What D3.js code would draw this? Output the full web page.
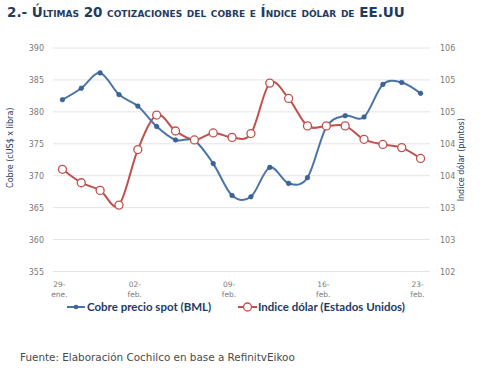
<!DOCTYPE html>
<html><head><meta charset="utf-8">
<script src="https://cdn.jsdelivr.net/npm/d3@7"></script>
<style>body{margin:0;background:#fff}svg{display:block}</style>
</head><body>
<svg id="c" width="491" height="382"></svg>
<script>
const cobre = [381.9,383.7,386.1,382.7,380.9,377.7,375.6,375.5,371.9,366.9,366.7,371.3,368.8,369.7,377.6,379.4,379.2,384.3,384.6,382.9];
const dolar = [103.6,103.39,103.27,103.04,103.91,104.45,104.2,104.06,104.17,104.1,104.16,104.95,104.71,104.28,104.28,104.28,104.07,103.99,103.94,103.77];
const tickIdx = [0,4,9,14,19];
const tickLabels = [["29-","ene."],["02-","feb."],["09-","feb."],["16-","feb."],["23-","feb."]];
const leftTicks = [355,360,365,370,375,380,385,390];
const rightTicks = [102,102.5,103,103.5,104,104.5,105,105.5];
const rightTickLabels = ["102","103","103","104","104","105","105","106"];
const seriesNames = ["Cobre precio spot (BML)","Indice dólar (Estados Unidos)"];

const svg = d3.select("#c");
const L=53, R=430, T=48, B=271.5;
const blue="#4a74a8", red="#c0504d", font="'DejaVu Sans', Verdana, sans-serif";

const x = d3.scalePoint().domain(d3.range(cobre.length)).range([L,R]).padding(0.5);
const yL = d3.scaleLinear().domain([355,390]).range([B,T]);
const yR = d3.scaleLinear().domain([102,105.5]).range([B,T]);

// title
const t = svg.append("text").attr("x",7).attr("y",17).attr("font-family",font)
  .attr("font-weight","bold").attr("fill","#1f3b63").attr("font-size",13.5);
t.append("tspan").text("2.- ");
t.append("tspan").style("font-variant","small-caps").text("Últimas 20 cotizaciones del cobre e Índice dólar de EE.UU");

// gridlines
svg.append("g").selectAll("line").data(leftTicks).join("line")
  .attr("x1",L).attr("x2",R).attr("y1",d=>yL(d)).attr("y2",d=>yL(d))
  .attr("stroke","#e4e4e4").attr("stroke-width",1);

// left axis
const la = svg.append("g").attr("transform",`translate(${L-9},0)`)
  .call(d3.axisLeft(yL).tickValues(leftTicks).tickSize(0).tickPadding(0));
la.select(".domain").remove();
la.selectAll("text").attr("font-family",font).attr("font-size",8).attr("fill","#7a7a7a");

// right axis
const ra = svg.append("g").attr("transform",`translate(${R+10},0)`)
  .call(d3.axisRight(yR).tickValues(rightTicks).tickSize(0).tickPadding(0).tickFormat((d,i)=>rightTickLabels[i]));
ra.select(".domain").remove();
ra.selectAll("text").attr("font-family",font).attr("font-size",8).attr("fill","#7a7a7a");

// x axis labels
const xa = svg.append("g").selectAll("text").data(tickIdx).join("text")
  .attr("font-family",font).attr("font-size",7.5).attr("fill","#7a7a7a").attr("text-anchor","middle");
xa.each(function(d,i){
  const s=d3.select(this);
  s.append("tspan").attr("x",x(d)-3).attr("y",287).text(tickLabels[i][0]);
  s.append("tspan").attr("x",x(d)-3).attr("y",297).text(tickLabels[i][1]);
});

// axis titles
svg.append("text").attr("transform",`translate(13,${(T+B)/2-12}) rotate(-90)`).attr("text-anchor","middle")
  .attr("font-family",font).attr("font-size",8).attr("fill","#1f3b63").text("Cobre (cUS$ x libra)");
svg.append("text").attr("transform",`translate(464,${(T+B)/2}) rotate(-90)`).attr("text-anchor","middle")
  .attr("font-family",font).attr("font-size",8).attr("fill","#1f3b63").text("Indice dólar (puntos)");

const curve = d3.curveCardinal.tension(0);
// red series
svg.append("path").datum(dolar).attr("fill","none").attr("stroke",red).attr("stroke-width",2)
  .attr("d",d3.line().x((d,i)=>x(i)).y(d=>yR(d)).curve(curve));
// blue series
svg.append("path").datum(cobre).attr("fill","none").attr("stroke",blue).attr("stroke-width",2)
  .attr("d",d3.line().x((d,i)=>x(i)).y(d=>yL(d)).curve(curve));
svg.append("g").selectAll("circle").data(cobre).join("circle")
  .attr("cx",(d,i)=>x(i)).attr("cy",d=>yL(d)).attr("r",2.3).attr("fill","#3c6499").attr("stroke","#2f5588").attr("stroke-width",0.6);
svg.append("g").selectAll("circle").data(dolar).join("circle")
  .attr("cx",(d,i)=>x(i)).attr("cy",d=>yR(d)).attr("r",4).attr("fill","#fff").attr("stroke",red).attr("stroke-width",1.3);

// legend
const lfont="Lato, 'Open Sans', sans-serif";
const ly=307;
const lg = svg.append("g");
lg.append("line").attr("x1",67).attr("x2",85).attr("y1",ly).attr("y2",ly).attr("stroke",blue).attr("stroke-width",2);
lg.append("circle").attr("cx",76).attr("cy",ly).attr("r",2.3).attr("fill","#3c6499");
lg.append("text").attr("x",87).attr("y",ly+4).attr("font-family",lfont).attr("font-weight","bold").attr("font-size",11.5).attr("fill","#1f3b63").text(seriesNames[0]);
lg.append("line").attr("x1",238).attr("x2",257).attr("y1",ly).attr("y2",ly).attr("stroke",red).attr("stroke-width",2);
lg.append("circle").attr("cx",247.5).attr("cy",ly).attr("r",4).attr("fill","#fff").attr("stroke",red).attr("stroke-width",1.3);
lg.append("text").attr("x",258).attr("y",ly+4).attr("font-family",lfont).attr("font-weight","bold").attr("font-size",11.5).attr("fill","#1f3b63").text(seriesNames[1]);

// source
svg.append("text").attr("x",20).attr("y",361).attr("font-family",font).attr("font-size",10.4).attr("fill","#4a4a4a")
  .text("Fuente: Elaboración Cochilco en base a RefinitvEikoo");
</script>
</body></html>
